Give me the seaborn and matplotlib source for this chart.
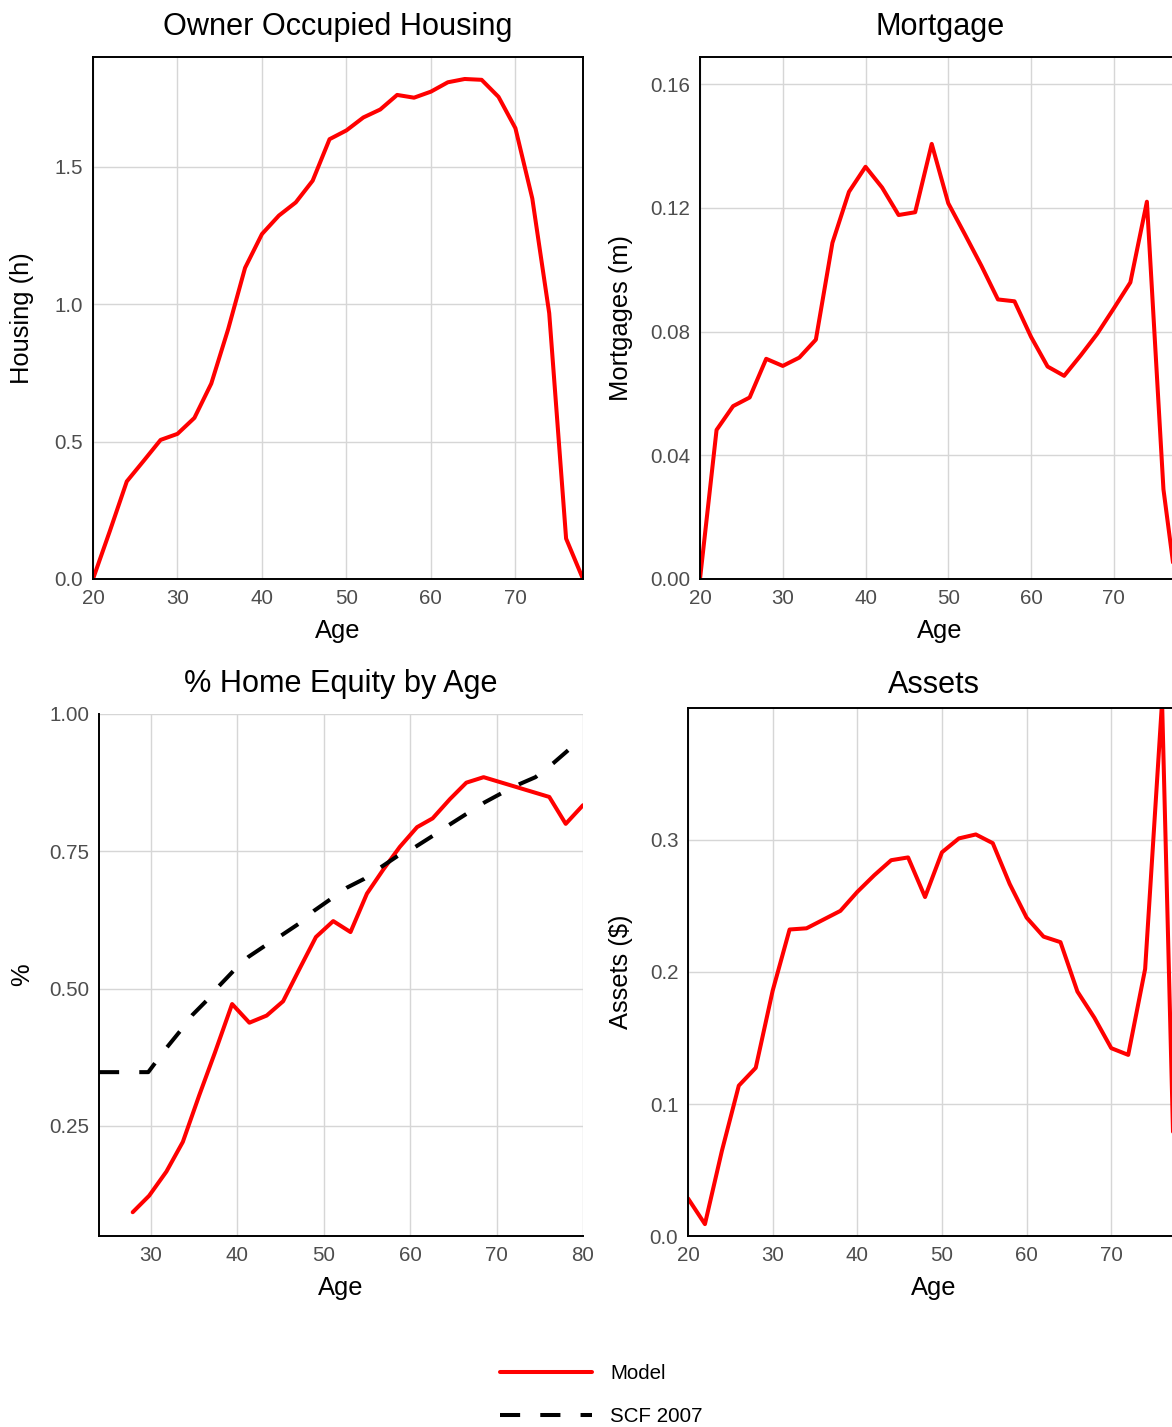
import matplotlib
matplotlib.use("Agg")
import matplotlib.pyplot as plt
import matplotlib.transforms as mtransforms
import seaborn as sns

# ── Data ──────────────────────────────────────────────────────────────────────

ages = [20, 22, 24, 26, 28, 30, 32, 34, 36, 38, 40, 42, 44, 46, 48,
        50, 52, 54, 56, 58, 60, 62, 64, 66, 68, 70, 72, 74, 76, 78]

housing = [0.0, 0.175, 0.355, 0.43, 0.506, 0.528, 0.586, 0.711, 0.909, 1.132,
           1.255, 1.322, 1.370, 1.449, 1.600, 1.632, 1.679, 1.708, 1.761, 1.751,
           1.773, 1.807, 1.819, 1.816, 1.754, 1.640, 1.384, 0.967, 0.147, 0.0]

mortgage = [0.0, 0.0482, 0.0559, 0.0587, 0.0712, 0.0689, 0.0716, 0.0774, 0.1087, 0.1252,
            0.1333, 0.1266, 0.1177, 0.1186, 0.1407, 0.1215, 0.1115, 0.1013, 0.0904, 0.0898,
            0.0783, 0.0687, 0.0657, 0.0723, 0.0793, 0.0875, 0.0959, 0.1220, 0.029, -0.012]

assets = [0.0285, 0.009, 0.0644, 0.1139, 0.1274, 0.1858, 0.2322, 0.2331, 0.2397, 0.2463,
          0.2607, 0.2733, 0.2847, 0.2868, 0.2568, 0.2907, 0.3012, 0.3042, 0.2976, 0.2667,
          0.2412, 0.2268, 0.2226, 0.1852, 0.1654, 0.1423, 0.1372, 0.2023, 0.405, -0.10]

equity_ages = [27.9, 29.8, 31.8, 33.7, 35.6, 37.4, 39.4, 41.4, 43.4, 45.3, 47.2, 49.1, 51.1, 53.1,
               55.0, 56.9, 58.8, 60.8, 62.6, 64.6, 66.5, 68.5, 70.4, 72.3, 74.2, 76.1, 78.0, 80.0]
equity_model = [0.093, 0.123, 0.167, 0.221, 0.306, 0.383, 0.472, 0.438, 0.451, 0.477, 0.536, 0.594,
                0.623, 0.603, 0.673, 0.717, 0.758, 0.794, 0.810, 0.845, 0.875, 0.885, 0.876,
                0.867, 0.858, 0.849, 0.800, 0.834]

scf_ages = [24.0, 29.7, 31.8, 33.4, 34.8, 36.5, 37.9, 39.6, 41.3, 43.2, 45.2, 47.1, 48.9, 50.8,
            52.7, 54.7, 56.7, 58.6, 60.6, 62.6, 64.7, 66.5, 68.6, 70.6, 72.6, 74.5, 76.6, 78.5]
scf_2007 = [0.348, 0.348, 0.392, 0.423, 0.452, 0.479, 0.505, 0.533, 0.558, 0.578, 0.598, 0.618,
            0.642, 0.663, 0.684, 0.700, 0.722, 0.742, 0.758, 0.778, 0.800, 0.818, 0.839, 0.856,
            0.872, 0.885, 0.911, 0.937]

# ── Style ─────────────────────────────────────────────────────────────────────

sns.set_style("white")
plt.rcParams["font.family"] = ["Liberation Sans", "DejaVu Sans"]
plt.rcParams["text.color"] = "black"
plt.rcParams["axes.labelcolor"] = "black"
plt.rcParams["axes.titlecolor"] = "black"

W, H = 1172, 1427
BASE = 18.4
RED = "#FF0000"
LW = 2.9
DASH = (0, (5, 5))

fig = plt.figure(figsize=(W / 100, H / 100), dpi=100)


def px_axes(left, top, right, bottom):
    return fig.add_axes([left / W, 1 - bottom / H, (right - left) / W, (bottom - top) / H])


def style(ax, title, ylabel, label_x, pad, box=True):
    ax.grid(True, color="#D6D6D6", lw=1.0)
    ax.set_axisbelow(True)
    for name, s in ax.spines.items():
        s.set_color("black")
        s.set_linewidth(1.4)
        if not box and name in ("top", "right"):
            s.set_visible(False)
    ax.tick_params(length=4, width=1, color="#333333", labelcolor="#4D4D4D",
                   labelsize=BASE * 0.8, pad=3)
    ax.set_title(title, fontsize=BASE * 1.2, pad=pad)
    ax.set_xlabel("Age", fontsize=BASE, labelpad=8)
    ax.set_ylabel(ylabel, fontsize=BASE)
    tr = mtransforms.blended_transform_factory(fig.transFigure, ax.transAxes)
    ax.yaxis.set_label_coords(label_x / W, 0.5, transform=tr)


# ── Panels ────────────────────────────────────────────────────────────────────

ax1 = px_axes(93, 57, 583, 579)
sns.lineplot(x=ages, y=housing, ax=ax1, color=RED, lw=LW)
ax1.set_xlim(20, 78)
ax1.set_ylim(0, 1.899)
ax1.set_xticks([20, 30, 40, 50, 60, 70])
ax1.set_yticks([0.0, 0.5, 1.0, 1.5])
ax1.set_yticklabels(["0.0", "0.5", "1.0", "1.5"])
style(ax1, "Owner Occupied Housing", "Housing (h)", 34, 16)

ax2 = px_axes(700, 57, 1180, 579)
sns.lineplot(x=ages, y=mortgage, ax=ax2, color=RED, lw=LW)
ax2.set_xlim(20, 78)
ax2.set_ylim(0, 0.1688)
ax2.set_xticks([20, 30, 40, 50, 60, 70])
ax2.set_yticks([0.0, 0.04, 0.08, 0.12, 0.16])
ax2.set_yticklabels(["0.00", "0.04", "0.08", "0.12", "0.16"])
style(ax2, "Mortgage", "Mortgages (m)", 633, 16)

ax3 = px_axes(99, 714, 583, 1236)
sns.lineplot(x=equity_ages, y=equity_model, ax=ax3, color=RED, lw=LW, label="Model")
sns.lineplot(x=scf_ages, y=scf_2007, ax=ax3, color="black", lw=LW, linestyle=DASH,
             label="SCF 2007")
ax3.set_xlim(24, 80)
ax3.set_ylim(0.0497, 1.0)
ax3.set_xticks([30, 40, 50, 60, 70, 80])
ax3.set_yticks([0.25, 0.50, 0.75, 1.00])
ax3.set_yticklabels(["0.25", "0.50", "0.75", "1.00"])
style(ax3, "% Home Equity by Age", "%", 34, 16, box=False)
handles, labels = ax3.get_legend_handles_labels()
ax3.get_legend().remove()

ax4 = px_axes(688, 708, 1179, 1236)
sns.lineplot(x=ages, y=assets, ax=ax4, color=RED, lw=LW)
ax4.set_xlim(20, 78)
ax4.set_ylim(0, 0.40)
ax4.set_xticks([20, 30, 40, 50, 60, 70])
ax4.set_yticks([0.0, 0.1, 0.2, 0.3])
ax4.set_yticklabels(["0.0", "0.1", "0.2", "0.3"])
style(ax4, "Assets", "Assets ($)", 633, 11)

fig.legend(handles, labels, loc="center", bbox_to_anchor=(601 / W, 1 - 1395 / H),
           frameon=False, fontsize=BASE * 0.8, handlelength=4.5, handletextpad=0.9,
           labelspacing=1.15)

fig.savefig("out.png", dpi=100)
plt.close("all")
